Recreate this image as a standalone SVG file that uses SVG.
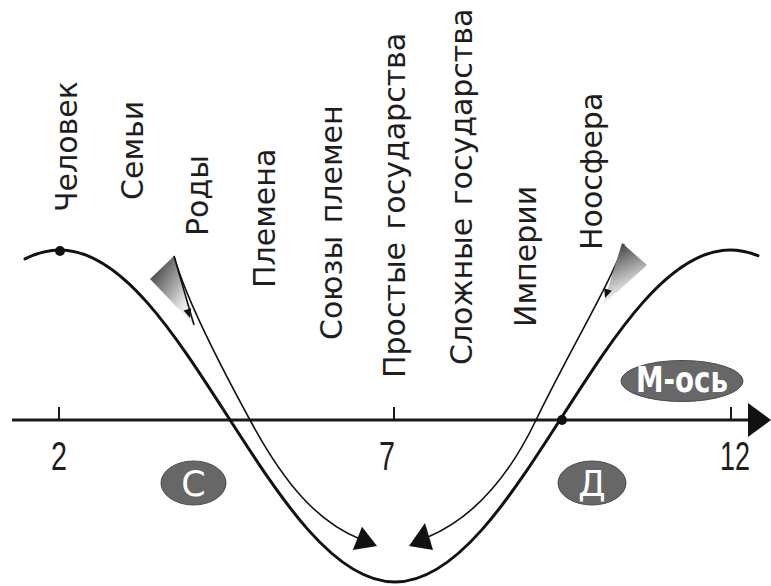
<svg xmlns="http://www.w3.org/2000/svg" width="771" height="586" viewBox="0 0 771 586">
<defs>
<style>
.lbl{font-family:"DejaVu Sans","Verdana",sans-serif;font-size:30px;fill:#1e1e1e;word-spacing:3px}
.num{font-family:"Liberation Sans","Arial",sans-serif;font-size:40px;fill:#1e1e1e;text-anchor:middle}
.main{fill:none;stroke:#111;stroke-width:3;stroke-linecap:round}
.thin{fill:none;stroke:#111;stroke-width:1.6}
.axis{fill:none;stroke:#1a1a1a;stroke-width:3}
.tick{stroke:#1a1a1a;stroke-width:2}
.oval{fill:#676767;stroke:#4a4a4a;stroke-width:1}
.ovt{font-family:"DejaVu Sans",sans-serif;font-size:35px;fill:#fff;text-anchor:middle}
.head{fill:#111}
</style>
<linearGradient id="gL" gradientUnits="userSpaceOnUse" x1="150" y1="276" x2="188" y2="300">
<stop offset="0" stop-color="#4a4a4a"/><stop offset="1" stop-color="#ececec"/>
</linearGradient>
<linearGradient id="gR" gradientUnits="userSpaceOnUse" x1="622" y1="245" x2="640" y2="285">
<stop offset="0" stop-color="#4a4a4a"/><stop offset="1" stop-color="#ececec"/>
</linearGradient>
</defs>
<rect width="771" height="586" fill="#fff"/>

<g id="labels">
<text class="lbl" transform="translate(77,212) rotate(-90)">Человек</text>
<text class="lbl" transform="translate(143,200) rotate(-90)">Семьи</text>
<text class="lbl" transform="translate(208,236) rotate(-90)">Роды</text>
<text class="lbl" transform="translate(275,288) rotate(-90)">Племена</text>
<text class="lbl" transform="translate(342,340) rotate(-90)">Союзы племен</text>
<text class="lbl" transform="translate(405,378) rotate(-90)">Простые государства</text>
<text class="lbl" transform="translate(472,365) rotate(-90)">Сложные государства</text>
<text class="lbl" transform="translate(536,327) rotate(-90)">Империи</text>
<text class="lbl" transform="translate(602,250) rotate(-90)">Ноосфера</text>
</g>

<g id="axis">
<line class="axis" x1="12" y1="420" x2="752" y2="420"/>
<polygon class="head" points="748,403 771,420 748,437"/>
<line class="tick" x1="59" y1="407" x2="59" y2="420"/>
<line class="tick" x1="394" y1="407" x2="394" y2="420"/>
<line class="tick" x1="731" y1="407" x2="731" y2="420"/>
<text class="num" x="59" y="470" textLength="16" lengthAdjust="spacingAndGlyphs">2</text>
<text class="num" x="387" y="470" textLength="16" lengthAdjust="spacingAndGlyphs">7</text>
<text class="num" x="735" y="470" textLength="30" lengthAdjust="spacingAndGlyphs">12</text>
</g>

<g id="connectors">
<path class="main" d="M25,258.9 C36.7,253 48.3,250 60,250 C181.7,250 273.3,582 395,582 C516.7,582 608.3,250 730,250 C739.3,250 748.7,251.9 758,255.7"/>
<circle cx="60" cy="251" r="5" fill="#111"/>
<circle cx="562" cy="420" r="5" fill="#111"/>
<path class="thin" d="M174,256 C186,300 220,365 250,420 C285,485 318,522 360,539"/>
<polygon class="head" points="377,546 352.8,549.9 362,526.7"/>
<path class="thin" d="M624,244 C612,280 570,350 536,420 C505,485 468,520 428,537"/>
<polygon class="head" points="409,546 425,523 433,550"/>
</g>

<g id="funnel-left">
<polygon points="150,279 174,256 194,325" fill="url(#gL)"/>
<line class="thin" x1="174" y1="256" x2="194" y2="325"/>
<polygon class="head" points="190,318 183.6,310.6 191.2,308.2"/>
</g>
<g id="funnel-right">
<polygon points="622,243 647,265 603,305" fill="url(#gR)"/>
<polygon class="head" points="605,298 611.8,290.8 604.2,288.2"/>
</g>

<g id="node-c">
<ellipse class="oval" cx="193.5" cy="483" rx="32.5" ry="22"/>
<text class="ovt" x="193.5" y="496">С</text>
</g>
<g id="node-d">
<ellipse class="oval" cx="592" cy="483" rx="34" ry="22"/>
<text class="ovt" x="592" y="496">Д</text>
</g>
<g id="node-m">
<ellipse class="oval" cx="682" cy="381" rx="61" ry="20.5"/>
<text class="ovt" x="682" y="392" style="font-weight:bold;font-size:35px" textLength="92" lengthAdjust="spacingAndGlyphs">М-ось</text>
</g>
</svg>
